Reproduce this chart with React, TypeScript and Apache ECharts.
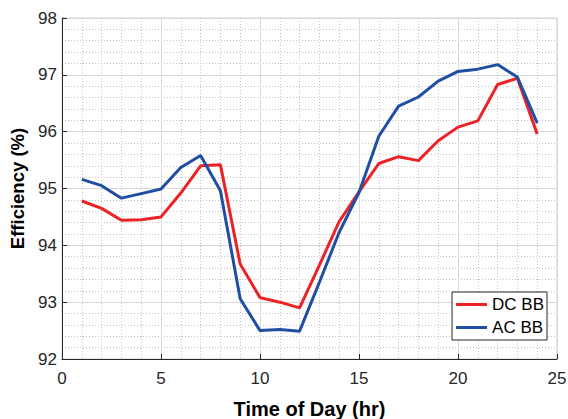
import React, { useEffect, useRef } from "react";
import * as echarts from "echarts";

const hours = [1, 2, 3, 4, 5, 6, 7, 8, 9, 10, 11, 12, 13, 14, 15, 16, 17, 18, 19, 20, 21, 22, 23, 24];
const dcBB = [94.78, 94.65, 94.44, 94.45, 94.5, 94.92, 95.4, 95.42, 93.67, 93.08, 93.0, 92.9, 93.65, 94.42, 94.94, 95.44, 95.56, 95.49, 95.84, 96.08, 96.19, 96.83, 96.94, 95.96];
const acBB = [95.16, 95.05, 94.83, 94.91, 94.99, 95.37, 95.58, 94.96, 93.06, 92.5, 92.52, 92.49, 93.35, 94.23, 94.93, 95.92, 96.45, 96.61, 96.89, 97.06, 97.1, 97.18, 96.96, 96.15];
const seriesNames = ["DC BB", "AC BB"];

const FONT = "Liberation Sans, Arial, sans-serif";

export default function App() {
  const ref = useRef<HTMLDivElement>(null);
  useEffect(() => {
    const chart = echarts.init(ref.current!, null, { renderer: "svg" });
    const axisCommon = {
      axisLine: { show: true, lineStyle: { color: "#262626", width: 1 } },
      axisTick: { show: true, inside: true, length: 5, lineStyle: { color: "#262626" } },
      splitLine: { show: true, lineStyle: { color: "#d9d9d9", width: 1 } },
      minorTick: { show: false, splitNumber: 5 },
      minorSplitLine: { show: true, lineStyle: { color: "#c4c4c4", type: [1, 2], width: 1 } },
    };
    chart.setOption({
      animation: false,
      backgroundColor: "#fff",
      grid: {
        left: 62,
        right: 11,
        top: 18,
        bottom: 60,
        containLabel: false,
        outerBoundsMode: "none",
        show: true,
        borderColor: "#d0d0d0",
        borderWidth: 1,
      },
      xAxis: {
        type: "value",
        min: 0,
        max: 25,
        interval: 5,
        name: "Time of Day (hr)",
        nameLocation: "middle",
        nameGap: 40,
        nameTextStyle: { color: "#000", fontSize: 20, fontWeight: "bold", fontFamily: FONT },
        ...axisCommon,
        axisLabel: { color: "#262626", fontSize: 17, fontFamily: FONT, margin: 11 },
      },
      yAxis: {
        type: "value",
        min: 92,
        max: 98,
        interval: 1,
        name: "Efficiency (%)",
        nameLocation: "middle",
        nameGap: 33,
        nameTextStyle: { color: "#000", fontSize: 18.5, fontWeight: "bold", fontFamily: FONT },
        ...axisCommon,
        axisLabel: { color: "#262626", fontSize: 17, fontFamily: FONT, margin: 5 },
      },
      legend: {
        right: 21,
        bottom: 79,
        orient: "vertical",
        backgroundColor: "#fff",
        borderColor: "#262626",
        borderWidth: 1,
        borderRadius: 0,
        padding: [4, 3, 4, 4],
        itemGap: 6,
        itemWidth: 31,
        itemHeight: 3,
        textStyle: { fontSize: 17, color: "#000", fontFamily: FONT },
        data: seriesNames.map((n) => ({ name: n, icon: "rect" })),
      },
      series: [
        {
          name: seriesNames[0],
          type: "line",
          data: hours.map((h, i) => [h, dcBB[i]]),
          showSymbol: false,
          symbol: "none",
          lineStyle: { color: "#ec2227", width: 3 },
          itemStyle: { color: "#ec2227" },
          z: 2,
        },
        {
          name: seriesNames[1],
          type: "line",
          data: hours.map((h, i) => [h, acBB[i]]),
          showSymbol: false,
          symbol: "none",
          lineStyle: { color: "#1f4ea3", width: 3 },
          itemStyle: { color: "#1f4ea3" },
          z: 3,
        },
      ],
    });
    return () => chart.dispose();
  }, []);
  return <div ref={ref} style={{ width: 568, height: 419, position: "absolute", left: 0, top: 0 }} />;
}
